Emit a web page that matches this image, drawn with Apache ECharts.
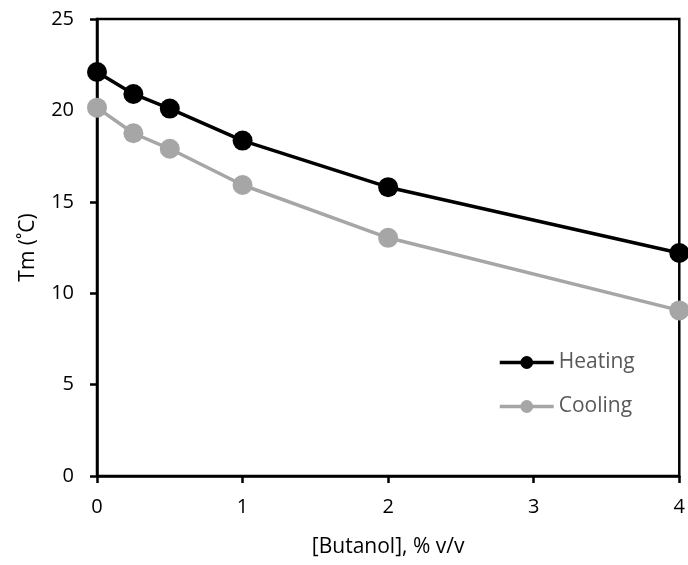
<!DOCTYPE html>
<html><head><meta charset="utf-8">
<script src="https://cdn.jsdelivr.net/npm/echarts@6/dist/echarts.min.js"></script>
<style>html,body{margin:0;padding:0;background:#fff}#c{width:688px;height:565px}</style>
</head><body><div id="c"></div>
<script>
const butanol = [0, 0.25, 0.5, 1, 2, 4];
const heating = [22.1, 20.9, 20.1, 18.35, 15.8, 12.2];
const cooling = [20.15, 18.75, 17.9, 15.92, 13.03, 9.06];
const xTicks = [0, 1, 2, 3, 4];
const yTicks = [0, 5, 10, 15, 20, 25];

const font = "'Open Sans', 'Noto Sans', sans-serif";
const chart = echarts.init(document.getElementById('c'));
chart.setOption({
  animation: false,
  grid: {left: 97, top: 19, right: 7, bottom: 89, show: true, borderColor: '#000', borderWidth: 2.5, containLabel: false},
  legend: {
    orient: 'vertical', left: 493, top: 347, itemWidth: 54, itemHeight: 16, itemGap: 23,
    lineStyle: {width: 3.5},
    textStyle: {color: '#595959', fontSize: 21, fontFamily: font},
    data: ['Heating', 'Cooling']
  },
  xAxis: {
    type: 'value', min: 0, max: 4, interval: 1,
    name: '[Butanol], % v/v', nameLocation: 'middle', nameGap: 61,
    nameTextStyle: {color: '#000', fontSize: 21, fontFamily: font},
    axisLine: {show: true, lineStyle: {color: '#000', width: 2.5}},
    axisTick: {show: true, inside: false, length: 7, lineStyle: {color: '#000', width: 2.5}},
    axisLabel: {color: '#000', fontSize: 20, fontFamily: font, margin: 21, formatter: v => xTicks.includes(v) ? String(v) : ''},
    splitLine: {show: false}
  },
  yAxis: {
    type: 'value', min: 0, max: 25, interval: 5,
    name: 'Tm (˚C)', nameLocation: 'middle', nameGap: 58, nameRotate: 90,
    nameTextStyle: {color: '#000', fontSize: 21, fontFamily: font},
    axisLine: {show: true, lineStyle: {color: '#000', width: 2.5}},
    axisTick: {show: true, inside: false, length: 7, lineStyle: {color: '#000', width: 2.5}},
    axisLabel: {color: '#000', fontSize: 20, fontFamily: font, margin: 23, formatter: v => yTicks.includes(v) ? String(v) : ''},
    splitLine: {show: false}
  },
  series: [
    {name: 'Heating', type: 'line', data: butanol.map((x, i) => [x, heating[i]]),
     symbol: 'circle', symbolSize: 20, clip: false,
     lineStyle: {color: '#000', width: 3.5}, itemStyle: {color: '#000'}},
    {name: 'Cooling', type: 'line', data: butanol.map((x, i) => [x, cooling[i]]),
     symbol: 'circle', symbolSize: 20, clip: false,
     lineStyle: {color: '#a6a6a6', width: 3.5}, itemStyle: {color: '#a6a6a6'}}
  ]
});
</script></body></html>
